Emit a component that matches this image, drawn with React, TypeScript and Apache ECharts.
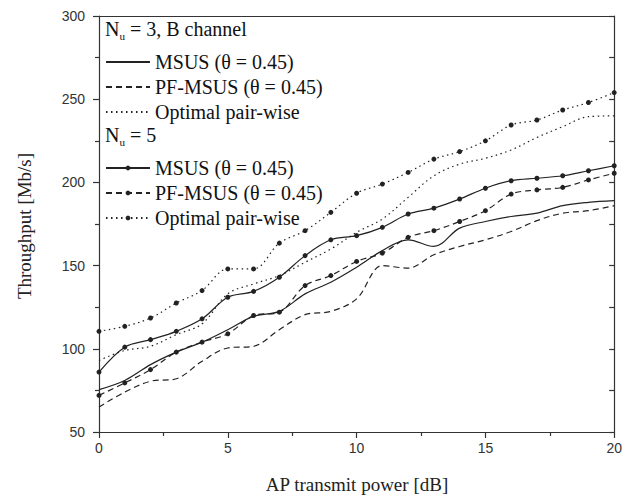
import React, { useEffect, useRef } from "react";
import * as echarts from "echarts";

const xValues = [0, 1, 2, 3, 4, 5, 6, 7, 8, 9, 10, 11, 12, 13, 14, 15, 16, 17, 18, 19, 20];

const nu3Msus = [75.5, 81, 90.5, 98, 104, 111.5, 119.5, 122.5, 133, 140, 149, 159, 165.5, 161.5, 172.5, 176.5, 179.5, 181.5, 186, 188, 189];
const nu3PfMsus = [65, 74, 80.5, 82, 92.5, 100.5, 101.5, 111.5, 120.5, 122.5, 130, 150, 148.5, 156.5, 161.5, 165.5, 170.5, 177, 181.5, 183, 186];
const nu3Optimal = [93, 99, 101.5, 108.5, 115, 133, 139, 144, 152, 160, 170, 178, 191, 204, 211, 214.5, 219.5, 227, 233.5, 239.5, 240];

const nu5Msus = [86, 101, 105.5, 110.5, 118, 131, 134.5, 143, 156, 165.5, 168, 173, 181, 184.5, 190, 196.5, 201, 202.5, 204, 207, 210];
const nu5PfMsus = [72, 79.5, 87.5, 98, 104, 109, 120, 122, 138, 144, 152.5, 157.5, 167, 171, 176.5, 183, 193, 195.5, 197, 201.5, 205.5];
const nu5Optimal = [110.5, 113.5, 118.5, 127.5, 135, 148, 148, 163.5, 171, 182, 193.5, 199, 206, 214, 218.5, 225, 234.5, 237.5, 243.5, 248, 254];

const legendLabels: Record<string, string> = {
  "nu3-msus": "MSUS (θ = 0.45)",
  "nu3-pf": "PF-MSUS (θ = 0.45)",
  "nu3-opt": "Optimal pair-wise",
  "nu5-msus": "MSUS (θ = 0.45)",
  "nu5-pf": "PF-MSUS (θ = 0.45)",
  "nu5-opt": "Optimal pair-wise",
};

const SERIF = "'Liberation Serif', 'Times New Roman', serif";
const SANS = "'Liberation Sans', Arial, sans-serif";
const INK = "#222";

export default function App() {
  const ref = useRef<HTMLDivElement>(null);

  useEffect(() => {
    document.body.style.margin = "0";
    if (!ref.current) return;
    const chart = echarts.init(ref.current, null, { renderer: "svg" });

    const dashed = [6, 4];
    const dotted = [1.5, 3.5];

    const mk = (id: string, vals: number[], type: any, markers: boolean) => ({
      name: id,
      type: "line",
      smooth: 0.35,
      data: xValues.map((x, i) => [x, vals[i]]),
      xAxisIndex: 0,
      yAxisIndex: 0,
      symbol: markers ? "circle" : "none",
      showSymbol: markers,
      symbolSize: 5,
      itemStyle: { color: INK },
      lineStyle: { color: INK, width: 1.2, type },
      z: 3,
    });

    const legendCommon = {
      orient: "vertical",
      left: 105,
      itemWidth: 44,
      itemHeight: 6,
      itemGap: 5,
      padding: 0,
      selectedMode: false,
      formatter: (n: string) => legendLabels[n],
      textStyle: { fontFamily: SERIF, fontSize: 20, color: "#111", lineHeight: 20 },
    };

    const hidden = { opacity: 0 };

    chart.setOption({
      animation: false,
      backgroundColor: "#fff",
      grid: { left: 99, right: 9, top: 16, bottom: 65 },
      xAxis: [
        {
          type: "value",
          min: 0,
          max: 20,
          interval: 5,
          position: "bottom",
          axisLine: { onZero: false, lineStyle: { color: "#333", width: 1.2 } },
          axisTick: { inside: false, length: 6, lineStyle: { color: "#333", width: 1.2 } },
          minorTick: { show: true, splitNumber: 2, length: 4, lineStyle: { color: "#333", width: 1.2 } },
          axisLabel: { fontFamily: SANS, fontSize: 14, color: "#333", margin: 9 },
          splitLine: { show: false },
        },
        {
          type: "value",
          min: 0,
          max: 20,
          interval: 5,
          position: "top",
          axisLine: { onZero: false, lineStyle: { color: "#333", width: 1.2 } },
          axisTick: { show: false },
          axisLabel: { show: false },
          splitLine: { show: false },
        },
      ],
      yAxis: [
        {
          type: "value",
          min: 50,
          max: 300,
          interval: 50,
          position: "left",
          axisLine: { show: true, onZero: false, lineStyle: { color: "#333", width: 1.2 } },
          axisTick: { show: true, inside: false, length: 6, lineStyle: { color: "#333", width: 1.2 } },
          minorTick: { show: true, splitNumber: 2, length: 4, lineStyle: { color: "#333", width: 1.2 } },
          axisLabel: { fontFamily: SANS, fontSize: 14, color: "#333", margin: 14 },
          splitLine: { show: false },
        },
        {
          type: "value",
          min: 50,
          max: 300,
          interval: 25,
          position: "right",
          axisLine: { show: true, onZero: false, lineStyle: { color: "#333", width: 1.2 } },
          axisTick: { show: true, inside: true, length: 5, lineStyle: { color: "#333", width: 1.2 } },
          axisLabel: { show: false },
          splitLine: { show: false },
        },
      ],
      legend: [
        {
          ...legendCommon,
          top: 52,
          data: [
            { name: "nu3-msus", itemStyle: hidden },
            { name: "nu3-pf", itemStyle: hidden },
            { name: "nu3-opt", itemStyle: hidden },
          ],
        },
        { ...legendCommon, top: 158, data: ["nu5-msus", "nu5-pf", "nu5-opt"] },
      ],
      graphic: [
        {
          type: "text",
          left: 105,
          top: 19,
          style: {
            text: "N{sub|u} = 3, B channel",
            fontFamily: SERIF,
            fontSize: 20,
            fill: "#111",
            rich: { sub: { fontFamily: SERIF, fontSize: 11, verticalAlign: "bottom", padding: [14, 0, 0, 0] } },
          },
        },
        {
          type: "text",
          left: 105,
          top: 125,
          style: {
            text: "N{sub|u} = 5",
            fontFamily: SERIF,
            fontSize: 20,
            fill: "#111",
            rich: { sub: { fontFamily: SERIF, fontSize: 11, verticalAlign: "bottom", padding: [14, 0, 0, 0] } },
          },
        },
        {
          type: "text",
          x: 357,
          y: 484,
          style: {
            text: "AP transmit power [dB]",
            fontFamily: SERIF,
            fontSize: 19,
            fill: "#222",
            textAlign: "center",
            textVerticalAlign: "middle",
          },
        },
        {
          type: "text",
          x: 24,
          y: 226,
          rotation: Math.PI / 2,
          style: {
            text: "Throughput [Mb/s]",
            fontFamily: SERIF,
            fontSize: 19,
            fill: "#222",
            textAlign: "center",
            textVerticalAlign: "middle",
          },
        },
      ],
      series: [
        mk("nu3-msus", nu3Msus, "solid", false),
        mk("nu3-pf", nu3PfMsus, dashed, false),
        mk("nu3-opt", nu3Optimal, dotted, false),
        mk("nu5-msus", nu5Msus, "solid", true),
        mk("nu5-pf", nu5PfMsus, dashed, true),
        mk("nu5-opt", nu5Optimal, dotted, true),
      ],
    });

    return () => chart.dispose();
  }, []);

  return <div ref={ref} style={{ width: 625, height: 497 }} />;
}
